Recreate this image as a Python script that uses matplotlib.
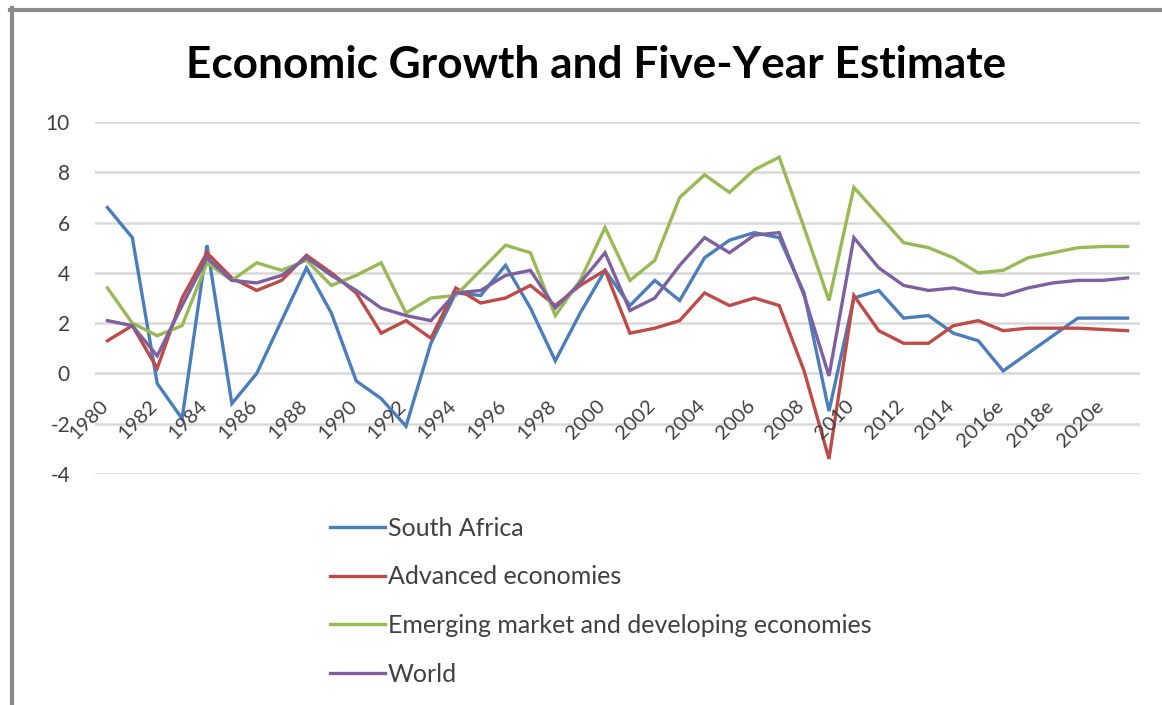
import matplotlib
matplotlib.use("Agg")
import matplotlib.pyplot as plt
from matplotlib.lines import Line2D

years = [str(y) for y in range(1980, 2016)] + ["2016e", "2017e", "2018e", "2019e", "2020e", "2021e"]

south_africa = [6.6, 5.4, -0.4, -1.8, 5.1, -1.2, 0.0, 2.1, 4.2, 2.4,
                -0.3, -1.0, -2.1, 1.2, 3.2, 3.1, 4.3, 2.6, 0.5, 2.4,
                4.1, 2.7, 3.7, 2.9, 4.6, 5.3, 5.6, 5.4, 3.2, -1.5,
                3.0, 3.3, 2.2, 2.3, 1.6, 1.3, 0.1, 0.8, 1.5, 2.2, 2.2, 2.2]
advanced = [1.3, 1.9, 0.2, 3.0, 4.8, 3.8, 3.3, 3.7, 4.7, 4.0,
            3.2, 1.6, 2.1, 1.4, 3.4, 2.8, 3.0, 3.5, 2.7, 3.5,
            4.1, 1.6, 1.8, 2.1, 3.2, 2.7, 3.0, 2.7, 0.1, -3.4,
            3.1, 1.7, 1.2, 1.2, 1.9, 2.1, 1.7, 1.8, 1.8, 1.8, 1.75, 1.7]
emerging = [3.4, 2.0, 1.5, 1.9, 4.4, 3.7, 4.4, 4.1, 4.5, 3.5,
            3.9, 4.4, 2.4, 3.0, 3.1, 4.1, 5.1, 4.8, 2.3, 3.7,
            5.8, 3.7, 4.5, 7.0, 7.9, 7.2, 8.1, 8.6, 5.8, 2.9,
            7.4, 6.3, 5.2, 5.0, 4.6, 4.0, 4.1, 4.6, 4.8, 5.0, 5.05, 5.05]
world = [2.1, 1.9, 0.7, 2.7, 4.6, 3.7, 3.6, 3.9, 4.6, 3.9,
         3.3, 2.6, 2.3, 2.1, 3.2, 3.3, 3.9, 4.1, 2.6, 3.6,
         4.8, 2.5, 3.0, 4.3, 5.4, 4.8, 5.5, 5.6, 3.1, -0.1,
         5.4, 4.2, 3.5, 3.3, 3.4, 3.2, 3.1, 3.4, 3.6, 3.7, 3.7, 3.8]

series_names = ["South Africa", "Advanced economies",
                "Emerging market and developing economies", "World"]
series_values = [south_africa, advanced, emerging, world]
colors = ["#4A7EBB", "#BE4B48", "#98B954", "#7D60A0"]

plt.rcParams['font.family'] = ['Lato', 'DejaVu Sans']
plt.rcParams['axes.unicode_minus'] = False

W, H = 1162, 705
fig = plt.figure(figsize=(W / 100, H / 100), dpi=100)
fig.patch.set_facecolor("white")

left, right, top, bottom = 95, 1140, 122, 474
ax = fig.add_axes([left / W, 1 - bottom / H, (right - left) / W, (bottom - top) / H])

x = list(range(len(years)))
handles = []
for name, vals, c in zip(series_names, series_values, colors):
    h, = ax.plot(x, vals, color=c, lw=2.4, label=name, solid_joinstyle='miter')
    handles.append(h)

ax.set_xlim(-0.5, len(years) - 0.5)
ax.set_ylim(-4, 10)
ax.set_yticks(range(-4, 11, 2))
ax.yaxis.grid(True, color="#d9d9d9", lw=1.8)
ax.set_axisbelow(True)
for s in ax.spines.values():
    s.set_visible(False)
ax.tick_params(axis='y', length=0, pad=18, labelsize=15, labelcolor="#404040")
ax.set_xticks([])

for i in range(0, len(years), 2):
    ax.text(i + 0.15, -0.95, years[i], rotation=45, ha='right', va='top',
            fontsize=14.5, color="#404040")

fig.text(596 / W, 1 - 65 / H, "Economic Growth and Five-Year Estimate",
         ha='center', va='center', fontsize=31.8, fontweight='bold', color='black')

leg = fig.legend(handles=handles, loc='upper left',
                 bbox_to_anchor=(330 / W, 1 - 517 / H), frameon=False,
                 fontsize=18, handlelength=2.2, handletextpad=0.12,
                 labelspacing=1.02, borderaxespad=0, borderpad=0)
for t in leg.get_texts():
    t.set_color("#404040")

# screenshot border (top and left)
fig.add_artist(Line2D([10 / W, 1], [1 - 9.5 / H, 1 - 9.5 / H], transform=fig.transFigure,
                      color="#8a8a8a", lw=3))
fig.add_artist(Line2D([12 / W, 12 / W], [0, 1 - 8 / H], transform=fig.transFigure,
                      color="#8a8a8a", lw=3))

fig.savefig("out.png", dpi=100)
